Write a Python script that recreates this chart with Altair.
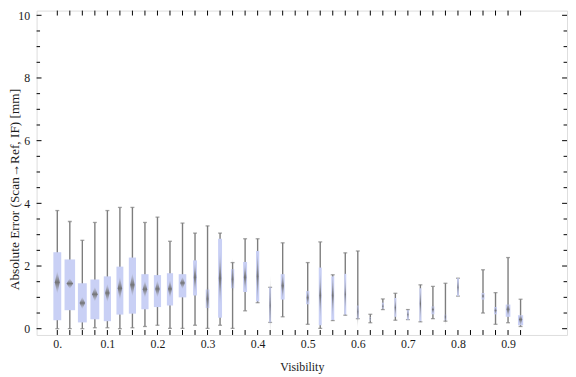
import altair as alt
import pandas as pd

# ---- data ----
visibility = [0.0, 0.025, 0.05, 0.075, 0.1, 0.125, 0.15, 0.175, 0.2, 0.225,
              0.25, 0.275, 0.3, 0.325, 0.35, 0.375, 0.4, 0.425, 0.45, 0.475,
              0.5, 0.525, 0.55, 0.575, 0.6, 0.625, 0.65, 0.675, 0.7, 0.725,
              0.75, 0.775, 0.8, 0.825, 0.85, 0.875, 0.9, 0.925]
whisker_lo = [0.0, 0.0, 0.0, 0.03, 0.03, 0.0, 0.03, 0.07, 0.11, 0.01,
              0.01, 0.11, 0.01, 0.11, 0.01, 0.57, 0.83, 0.20, 0.38, None,
              0.14, 0.01, 0.26, 0.43, 0.32, 0.19, 0.61, 0.27, 0.29, 0.22,
              0.32, 0.24, 1.04, None, 0.50, 0.14, 0.19, 0.07]
q1 = [0.27, 0.59, 0.20, 0.30, 0.24, 0.45, 0.48, 0.62, 0.69, 0.74,
      1.00, 1.06, 0.66, 0.35, 1.29, 1.17, 0.87, 0.20, 0.93, None,
      0.78, 0.11, 0.28, 0.45, 0.32, 0.26, 0.64, 0.38, 0.29, 0.24,
      0.46, 0.27, 1.04, None, 0.93, 0.46, 0.38, 0.11]
median = [1.48, 1.44, 0.82, 1.10, 1.14, 1.29, 1.40, 1.26, 1.27, 1.27,
          1.46, 1.64, 0.95, 1.61, 1.58, 1.64, 1.67, 0.74, 1.37, None,
          0.99, 1.06, 1.06, 1.10, 0.54, 0.32, 0.72, 0.67, 0.45, 0.80,
          0.61, 0.38, 1.32, None, 1.04, 0.58, 0.62, 0.29]
q3 = [2.44, 2.21, 1.45, 1.57, 1.67, 1.98, 2.27, 1.74, 1.71, 1.77,
      1.74, 2.18, 1.25, 2.87, 1.90, 2.13, 2.48, 1.32, 1.74, None,
      1.20, 1.95, 1.67, 1.75, 0.74, 0.37, 0.83, 0.98, 0.59, 1.29,
      0.71, 0.45, 1.61, None, 1.14, 0.69, 0.77, 0.43]
whisker_hi = [3.77, 3.42, 2.82, 3.39, 3.77, 3.87, 3.87, 3.39, 3.56, 2.79,
              3.37, 3.05, 3.28, 3.05, 2.11, 2.87, 2.87, 1.32, 2.74, None,
              2.11, 2.77, 1.72, 2.42, 2.48, 0.46, 0.95, 1.13, 0.61, 1.40,
              1.35, 1.45, 1.61, None, 1.88, 1.15, 2.27, 0.94]
counts = [80, 107, 90, 90, 73, 70, 73, 73, 73, 63,
          77, 40, 37, 40, 33, 40, 33, 20, 40, None,
          33, 30, 30, 20, 20, 15, 20, 20, 20, 20,
          30, 20, 20, None, 30, 30, 47, 53]
notch = [0.37, 0.17, 0.20, 0.24, 0.30, 0.38, 0.38, 0.28, 0.28, 0.30,
         0.20, 0.55, 0.70, 0.90, 0.70, 0.50, 0.85, 1.00, 0.45, None,
         0.30, 0.80, 0.75, 0.60, 0.55, 0.15, 0.15, 0.35, 0.20, 0.60,
         0.20, 0.30, 0.40, None, 0.15, 0.15, 0.25, 0.20]

y_major = [0, 2, 4, 6, 8, 10]
y_minor = [0.5, 1, 1.5, 2.5, 3, 3.5, 4.5, 5, 5.5, 6.5, 7, 7.5, 8.5, 9, 9.5]

# ---- layout / style ----
W, H = 538, 329
x_dom = [-0.0315, 1.0079]
y_dom = [-0.2, 10.15]
px_per_x = W / (x_dom[1] - x_dom[0])
box_px_per_count = 0.1
FONT = "Liberation Serif"
TXT = "#1a1a1a"
GRAY = "#7d7d7d"
BOX = "#c9d0f5"

df = pd.DataFrame(dict(v=visibility, lo=whisker_lo, q1=q1, med=median, q3=q3,
                       hi=whisker_hi, n=counts, notch=notch)).dropna()

rows = []
for _, r in df.iterrows():
    hw = 0.32 * r.n * box_px_per_count / px_per_x
    for yy, w in [(r.med - r.notch, 0.0), (r.med, hw), (r.med + r.notch, 0.0)]:
        rows.append(dict(v=r.v, y=yy, xl=r.v - w, xr=r.v + w))
dia = pd.DataFrame(rows)

xs = alt.Scale(domain=x_dom, nice=False, zero=False)
ys = alt.Scale(domain=y_dom, nice=False, zero=False)

label_expr = ("datum.value == 0 ? '0.' : (abs(datum.value*10 - round(datum.value*10)) < 0.001 "
              "? format(datum.value, '.1f') : '')")
xaxis = alt.Axis(values=visibility, labelExpr=label_expr, ticks=False, domain=False, grid=False,
                 labelFont=FONT, labelFontSize=12, labelColor=TXT, labelPadding=4,
                 labelOverlap=False, title="Visibility", titleFont=FONT, titleFontSize=12,
                 titleFontWeight="normal", titleColor=TXT, titleY=32, titleBaseline="middle")
yaxis = alt.Axis(values=y_major, format="d", ticks=False, domain=False, grid=False,
                 labelFont=FONT, labelFontSize=12, labelColor=TXT, labelPadding=7,
                 title="Absolute Error (Scan\u2192Ref, IF) [mm]", titleFont=FONT, titleFontSize=13.5,
                 titleFontWeight="normal", titleColor=TXT, titleX=-22, titleY=181,
                 titleBaseline="middle")

whisk = alt.Chart(df).mark_rule(color=GRAY, strokeWidth=1.4).encode(
    x=alt.X("v:Q", scale=xs, axis=xaxis),
    y=alt.Y("lo:Q", scale=ys, axis=yaxis),
    y2="hi:Q",
)
cap_lo = alt.Chart(df).mark_tick(orient="horizontal", size=4, thickness=1.3, color=GRAY).encode(
    x=alt.X("v:Q", scale=xs), y=alt.Y("lo:Q", scale=ys))
cap_hi = alt.Chart(df).mark_tick(orient="horizontal", size=4, thickness=1.3, color=GRAY).encode(
    x=alt.X("v:Q", scale=xs), y=alt.Y("hi:Q", scale=ys))
box = alt.Chart(df).mark_bar(color=BOX, orient="vertical").encode(
    x=alt.X("v:Q", scale=xs),
    y=alt.Y("q1:Q", scale=ys),
    y2="q3:Q",
    size=alt.Size("n:Q", scale=alt.Scale(domain=[0, 10], range=[0, 1]), legend=None),
)
grad = alt.Gradient(
    gradient="linear",
    stops=[alt.GradientStop(color="rgba(140,140,140,0)", offset=0),
           alt.GradientStop(color="rgba(110,110,110,0.95)", offset=0.5),
           alt.GradientStop(color="rgba(140,140,140,0)", offset=1)],
    x1=0, x2=0, y1=0, y2=1)
diamond = alt.Chart(dia).mark_area(orient="horizontal", color=grad).encode(
    y=alt.Y("y:Q", scale=ys),
    x=alt.X("xl:Q", scale=xs),
    x2="xr:Q",
    detail="v:N",
)

# inward frame ticks
xt = pd.DataFrame(dict(v=visibility))
ymaj = pd.DataFrame(dict(y=y_major))
ymin = pd.DataFrame(dict(y=y_minor))
tk = dict(color="black", strokeWidth=1)
t_bot = alt.Chart(xt).mark_rule(**tk).encode(x=alt.X("v:Q", scale=xs), y=alt.value(H), y2=alt.value(H - 5))
t_top = alt.Chart(xt).mark_rule(**tk).encode(x=alt.X("v:Q", scale=xs), y=alt.value(0), y2=alt.value(5))
t_l1 = alt.Chart(ymaj).mark_rule(**tk).encode(y=alt.Y("y:Q", scale=ys), x=alt.value(0), x2=alt.value(5))
t_l2 = alt.Chart(ymin).mark_rule(**tk).encode(y=alt.Y("y:Q", scale=ys), x=alt.value(0), x2=alt.value(3.5))
t_r1 = alt.Chart(ymaj).mark_rule(**tk).encode(y=alt.Y("y:Q", scale=ys), x=alt.value(W), x2=alt.value(W - 5))
t_r2 = alt.Chart(ymin).mark_rule(**tk).encode(y=alt.Y("y:Q", scale=ys), x=alt.value(W), x2=alt.value(W - 3.5))

chart = alt.layer(whisk, cap_lo, cap_hi, box, diamond,
                  t_bot, t_top, t_l1, t_l2, t_r1, t_r2).properties(
    width=W, height=H,
    autosize=alt.AutoSizeParams(type="none"),
    padding={"left": 29, "top": 0, "right": 1, "bottom": 40},
).configure_view(stroke="black", strokeWidth=1).configure(background="white")

chart.save("out.html", embed_options={"renderer": "svg", "actions": False})
